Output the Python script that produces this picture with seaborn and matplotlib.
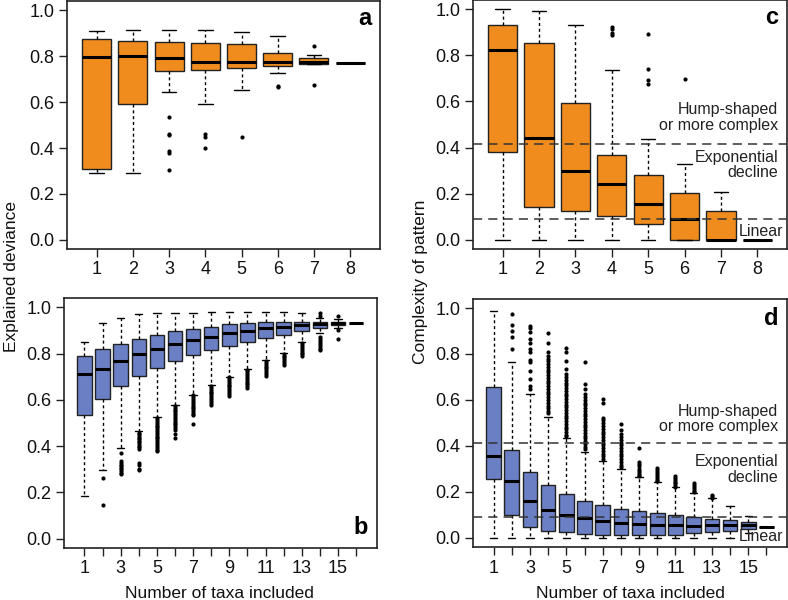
import matplotlib
matplotlib.use("Agg")
import matplotlib.pyplot as plt
import seaborn as sns
import pandas as pd

# ---- panel a : explained deviance, real taxa (1..8) ----
a_whislo = [0.29, 0.29, 0.645, 0.59, 0.652, 0.725, 0.766, 0.772]
a_q1 = [0.31, 0.59, 0.735, 0.742, 0.749, 0.759, 0.767, 0.772]
a_med = [0.795, 0.80, 0.792, 0.776, 0.777, 0.775, 0.773, 0.772]
a_q3 = [0.877, 0.866, 0.863, 0.860, 0.854, 0.816, 0.793, 0.772]
a_whishi = [0.91, 0.916, 0.916, 0.916, 0.906, 0.887, 0.804, 0.772]
a_out = [[], [], [0.537, 0.462, 0.455, 0.386, 0.378, 0.304],
         [0.463, 0.447, 0.401], [0.449], [0.670, 0.664], [0.844, 0.676], []]

# ---- panel c : complexity of pattern, real taxa (1..8) ----
c_whislo = [0.0, 0.0, 0.0, 0.0, 0.0, 0.0, 0.0, 0.0]
c_q1 = [0.382, 0.142, 0.126, 0.105, 0.067, 0.0, 0.0, 0.0]
c_med = [0.823, 0.442, 0.299, 0.243, 0.154, 0.089, 0.0, 0.0]
c_q3 = [0.932, 0.853, 0.592, 0.366, 0.282, 0.205, 0.126, 0.0]
c_whishi = [1.0, 0.993, 0.932, 0.735, 0.436, 0.33, 0.209, 0.0]
c_out = [[], [], [], [0.924, 0.913, 0.898, 0.887], [0.894, 0.741, 0.693, 0.677],
         [0.698], [], []]

# ---- panel b : explained deviance, simulated taxa (1..16) ----
b_whislo = [0.185, 0.297, 0.393, 0.464, 0.526, 0.577, 0.623, 0.664,
            0.700, 0.733, 0.772, 0.804, 0.849, 0.891, 0.913, 0.932]
b_q1 = [0.536, 0.604, 0.659, 0.703, 0.739, 0.770, 0.794, 0.816,
        0.833, 0.852, 0.867, 0.881, 0.898, 0.913, 0.925, 0.932]
b_med = [0.710, 0.733, 0.768, 0.797, 0.820, 0.842, 0.858, 0.872,
         0.888, 0.900, 0.910, 0.917, 0.925, 0.927, 0.932, 0.932]
b_q3 = [0.791, 0.820, 0.840, 0.864, 0.881, 0.896, 0.907, 0.917,
        0.927, 0.932, 0.935, 0.937, 0.937, 0.935, 0.939, 0.932]
b_whishi = [0.852, 0.932, 0.956, 0.971, 0.975, 0.978, 0.978, 0.980,
            0.980, 0.980, 0.980, 0.980, 0.975, 0.956, 0.950, 0.932]
b_out = [
    [],
    [0.261, 0.145],
    [0.372, 0.334, 0.327, 0.320, 0.313, 0.306, 0.299, 0.292, 0.285, 0.278],
    [0.458, 0.451, 0.444, 0.437, 0.430, 0.423, 0.416, 0.409, 0.402, 0.395, 0.389,
     0.328, 0.320, 0.302, 0.295],
    [0.521, 0.513, 0.505, 0.497, 0.489, 0.481, 0.473, 0.465, 0.457, 0.449, 0.441,
     0.433, 0.425, 0.417, 0.409, 0.401, 0.393, 0.385, 0.377],
    [0.574, 0.566, 0.558, 0.550, 0.542, 0.534, 0.526, 0.518, 0.510, 0.502, 0.494,
     0.486, 0.478, 0.470, 0.453, 0.434],
    [0.619, 0.611, 0.603, 0.595, 0.587, 0.579, 0.571, 0.563, 0.555, 0.547, 0.539,
     0.534, 0.497],
    [0.660, 0.652, 0.644, 0.636, 0.628, 0.620, 0.612, 0.604, 0.596, 0.588, 0.580],
    [0.698, 0.690, 0.682, 0.674, 0.666, 0.658, 0.650, 0.642, 0.634, 0.626, 0.618],
    [0.731, 0.723, 0.715, 0.707, 0.699, 0.691, 0.683, 0.675, 0.667, 0.659, 0.650],
    [0.768, 0.760, 0.752, 0.744, 0.736, 0.728, 0.720, 0.712, 0.704],
    [0.800, 0.792, 0.784, 0.776, 0.768, 0.760, 0.750],
    [0.845, 0.837, 0.829, 0.821, 0.813, 0.805, 0.797, 0.789],
    [0.975, 0.965, 0.870, 0.862, 0.854, 0.846, 0.838, 0.830, 0.822, 0.814],
    [0.962, 0.903, 0.862],
    [],
]

# ---- panel d : complexity of pattern, simulated taxa (1..16) ----
d_whislo = [0.0, 0.0, 0.0, 0.0, 0.0, 0.0, 0.0, 0.0,
            0.0, 0.0, 0.0, 0.0, 0.0, 0.0, 0.02, 0.05]
d_q1 = [0.257, 0.099, 0.050, 0.031, 0.025, 0.018, 0.013, 0.013,
        0.012, 0.012, 0.015, 0.020, 0.026, 0.032, 0.040, 0.05]
d_med = [0.357, 0.250, 0.160, 0.122, 0.100, 0.085, 0.074, 0.065,
         0.060, 0.057, 0.055, 0.054, 0.055, 0.055, 0.055, 0.05]
d_q3 = [0.656, 0.381, 0.289, 0.230, 0.190, 0.162, 0.142, 0.127,
        0.116, 0.108, 0.099, 0.090, 0.084, 0.078, 0.070, 0.05]
d_whishi = [0.985, 0.766, 0.628, 0.526, 0.436, 0.375, 0.334, 0.298,
            0.264, 0.244, 0.220, 0.195, 0.172, 0.141, 0.096, 0.05]
d_out = [
    [],
    [0.974, 0.926, 0.900, 0.872, 0.821],
    [0.923, 0.911, 0.897, 0.865, 0.850, 0.821, 0.807, 0.775, 0.766, 0.727,
     0.690, 0.659, 0.647],
    [0.890, 0.850, 0.807, 0.792, 0.780, 0.768, 0.756, 0.744, 0.732, 0.720, 0.708,
     0.696, 0.684, 0.672, 0.660, 0.648, 0.636, 0.624, 0.612, 0.600, 0.588, 0.576,
     0.564, 0.552, 0.545],
    [0.828, 0.810, 0.770, 0.735, 0.712, 0.700, 0.688, 0.676, 0.664, 0.652, 0.640,
     0.628, 0.616, 0.604, 0.592, 0.580, 0.568, 0.556, 0.544, 0.532, 0.520, 0.508,
     0.496, 0.484, 0.472, 0.460, 0.448, 0.443],
    [0.767, 0.668, 0.648, 0.625, 0.613, 0.601, 0.589, 0.577, 0.565, 0.553, 0.541,
     0.529, 0.517, 0.505, 0.493, 0.481, 0.469, 0.457, 0.445, 0.433, 0.421, 0.409,
     0.397, 0.385],
    [0.604, 0.586, 0.523, 0.511, 0.499, 0.487, 0.475, 0.463, 0.451, 0.439, 0.427,
     0.415, 0.403, 0.391, 0.379, 0.367, 0.355, 0.343],
    [0.494, 0.469, 0.451, 0.439, 0.427, 0.415, 0.403, 0.391, 0.379, 0.367, 0.355,
     0.343, 0.331, 0.319, 0.307],
    [0.392, 0.330, 0.320, 0.311, 0.302, 0.293, 0.284, 0.275, 0.269],
    [0.305, 0.296, 0.287, 0.278, 0.269, 0.260, 0.251, 0.247],
    [0.269, 0.261, 0.253, 0.245, 0.237, 0.229, 0.222],
    [0.238, 0.230, 0.222, 0.214, 0.206, 0.200],
    [0.189, 0.182, 0.176],
    [], [], [],
]

# threshold lines separating the shape classes
thresholds = [0.415, 0.09]

ORANGE = "#F08C1E"
BLUE = "#6B7FC5"

sns.set_theme(style="white")
plt.rcParams["font.family"] = ["Liberation Sans", "DejaVu Sans"]
plt.rcParams["axes.edgecolor"] = "#222222"
plt.rcParams["text.color"] = "#111111"


def draw_panel(ax, whislo, q1, med, q3, whishi, outliers, color, odd_labels=False):
    n = len(med)
    pos = list(range(1, n + 1))
    stats = []
    for i in range(n):
        stats.append(dict(whislo=whislo[i], q1=q1[i], med=med[i], q3=q3[i],
                          whishi=whishi[i], fliers=[]))
    ax.bxp(stats, positions=pos, widths=0.8, capwidths=0.4, patch_artist=True,
           showfliers=False,
           boxprops=dict(facecolor=color, edgecolor="#222222", linewidth=1.0),
           medianprops=dict(color="black", linewidth=2.2, solid_capstyle="butt"),
           whiskerprops=dict(color="black", linewidth=1.0, linestyle=(0, (2.2, 2))),
           capprops=dict(color="black", linewidth=1.0))

    # outliers as small filled dots
    xs, ys = [], []
    for i, vals in enumerate(outliers):
        for v in vals:
            xs.append(i + 1)
            ys.append(v)
    df = pd.DataFrame({"taxa": xs, "value": ys})
    if len(df):
        sns.scatterplot(data=df, x="taxa", y="value", ax=ax, color="black",
                        s=9, linewidth=0, legend=False, zorder=3)

    ax.set_xlim(0.5 - 0.04 * n, n + 0.5 + 0.04 * n)
    ax.set_ylim(-0.04, 1.04)
    ax.set_xticks(pos)
    if odd_labels:
        ax.set_xticklabels([str(p) if p % 2 == 1 else "" for p in pos])
    else:
        ax.set_xticklabels([str(p) for p in pos])
    ax.set_yticks([0.0, 0.2, 0.4, 0.6, 0.8, 1.0])
    ax.set_yticklabels(["0.0", "0.2", "0.4", "0.6", "0.8", "1.0"])
    ax.set_xlabel("")
    ax.set_ylabel("")
    ax.tick_params(axis="both", direction="out", length=6, width=1, color="#222222",
                   labelsize=13, labelcolor="#111111", pad=3, left=True, bottom=True)
    for sp in ax.spines.values():
        sp.set_linewidth(1.2)


def add_classes(ax, hump_y, exp_y, lin_y):
    for t in thresholds:
        ax.axhline(t, color="#333333", linewidth=1.1, linestyle=(0, (6, 4)), zorder=4)
    ax.text(0.972, hump_y, "Hump-shaped\nor more complex", transform=ax.get_yaxis_transform(),
            ha="right", va="center", fontsize=11.5, linespacing=1.05, color="#222222")
    ax.text(0.972, exp_y, "Exponential\ndecline", transform=ax.get_yaxis_transform(),
            ha="right", va="center", fontsize=11.5, linespacing=1.05, color="#222222")
    ax.text(0.987, lin_y, "Linear", transform=ax.get_yaxis_transform(),
            ha="right", va="center", fontsize=11.5, color="#222222")


fig = plt.figure(figsize=(7.88, 6.0), dpi=100)
ax_a = fig.add_axes([0.085, 0.585, 0.397, 0.413])
ax_c = fig.add_axes([0.600, 0.585, 0.399, 0.415])
ax_b = fig.add_axes([0.081, 0.087, 0.397, 0.416])
ax_d = fig.add_axes([0.600, 0.088, 0.399, 0.414])

draw_panel(ax_a, a_whislo, a_q1, a_med, a_q3, a_whishi, a_out, ORANGE)
draw_panel(ax_c, c_whislo, c_q1, c_med, c_q3, c_whishi, c_out, ORANGE)
draw_panel(ax_b, b_whislo, b_q1, b_med, b_q3, b_whishi, b_out, BLUE, odd_labels=True)
draw_panel(ax_d, d_whislo, d_q1, d_med, d_q3, d_whishi, d_out, BLUE, odd_labels=True)

add_classes(ax_c, 0.531, 0.324, 0.036)
add_classes(ax_d, 0.518, 0.299, 0.005)

# panel letters
for ax, letter, y in [(ax_a, "a", 0.93), (ax_c, "c", 0.93), (ax_b, "b", 0.08), (ax_d, "d", 0.92)]:
    ax.text(0.972, y, letter, transform=ax.transAxes, ha="right", va="center",
            fontsize=17, fontweight="bold", color="black")

fig.text(0.014, 0.54, "Explained deviance", rotation=90, ha="center", va="center", fontsize=12.5)
fig.text(0.534, 0.53, "Complexity of pattern", rotation=90, ha="center", va="center", fontsize=12.5)
fig.text(0.279, 0.004, "Number of taxa included", ha="center", va="baseline", fontsize=12.5)
fig.text(0.800, 0.004, "Number of taxa included", ha="center", va="baseline", fontsize=12.5)

fig.savefig("out.png", dpi=100)
